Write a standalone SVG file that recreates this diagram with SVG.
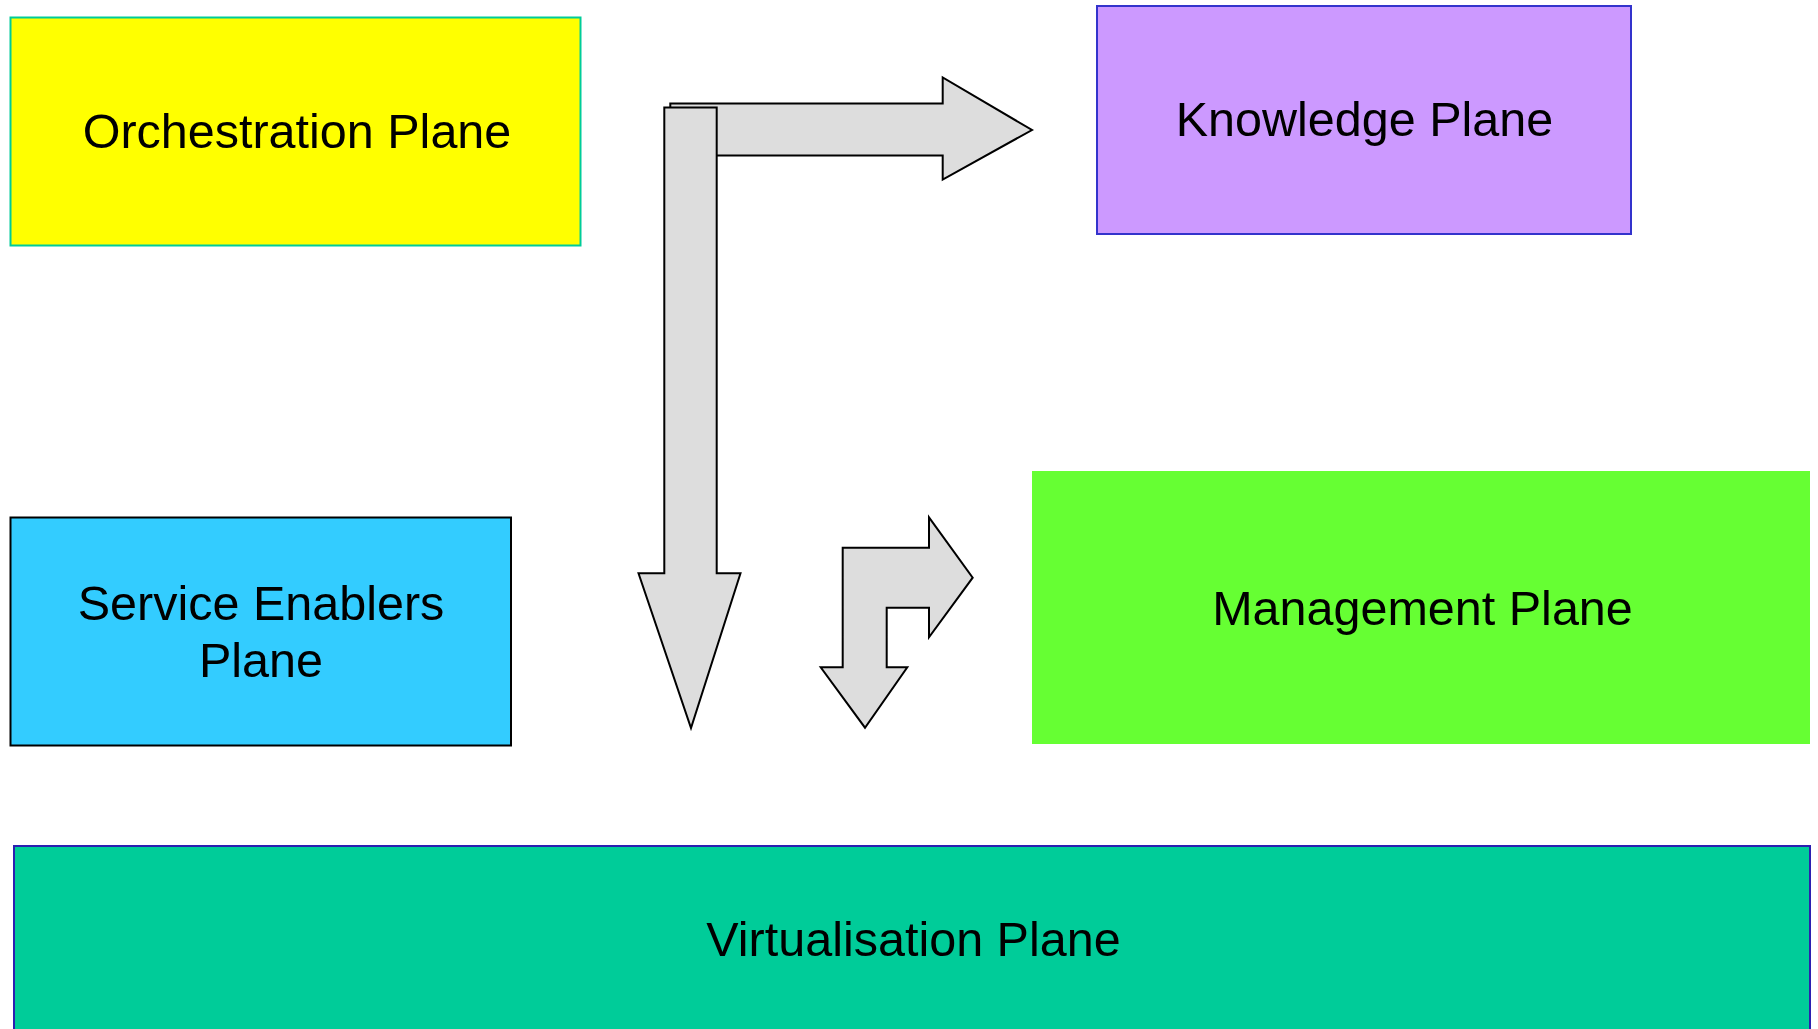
<svg xmlns="http://www.w3.org/2000/svg" width="1818" height="1029" viewBox="0 0 1818 1029">
  <style>
    .lbl { font-family: "Liberation Sans", Arial, sans-serif; font-size: 48.5px; fill: #000000; text-anchor: middle; }
    .arrow { fill: #DDDDDD; stroke: #000000; stroke-width: 2; stroke-linejoin: miter; }
  </style>
  <rect width="1818" height="1029" fill="#FFFFFF"/>

  <g id="orchestration-plane">
    <rect x="10.5" y="17.5" width="570" height="228" fill="#FFFF00" stroke="#00CC99" stroke-width="2"/>
    <text class="lbl" x="297" y="148">Orchestration Plane</text>
  </g>

  <g id="knowledge-plane">
    <rect x="1097" y="6" width="534" height="228" fill="#CC99FF" stroke="#3333CC" stroke-width="2"/>
    <text class="lbl" x="1364.5" y="136">Knowledge Plane</text>
  </g>

  <g id="service-enablers-plane">
    <rect x="10.5" y="517.5" width="500.5" height="228" fill="#33CCFF" stroke="#000000" stroke-width="2"/>
    <text class="lbl" x="261" y="620">Service Enablers</text>
    <text class="lbl" x="261" y="677">Plane</text>
  </g>

  <g id="management-plane">
    <rect x="1032" y="471" width="778" height="273" fill="#66FF33"/>
    <text class="lbl" x="1422.5" y="625">Management Plane</text>
  </g>

  <g id="virtualisation-plane">
    <rect x="14" y="846" width="1796" height="200" fill="#00CC99" stroke="#2B1FB0" stroke-width="2"/>
    <text class="lbl" x="913.5" y="956">Virtualisation Plane</text>
  </g>

  <g id="connectors">
    <polygon class="arrow" points="670.3,103.5 942.7,103.5 942.7,77.5 1032,130 942.7,179.5 942.7,155.5 670.3,155.5"/>
    <polygon class="arrow" points="664.3,107.5 716.7,107.5 716.7,573.3 740.5,573.3 691,728 638.5,573.3 664.3,573.3"/>
    <polygon class="arrow" points="842.7,547.7 929,547.7 929,517.3 972.7,577.7 929,637.3 929,607.7 886.7,607.7 886.7,667.3 907.3,667.3 865,727.7 820.7,667.3 842.7,667.3"/>
  </g>
</svg>
